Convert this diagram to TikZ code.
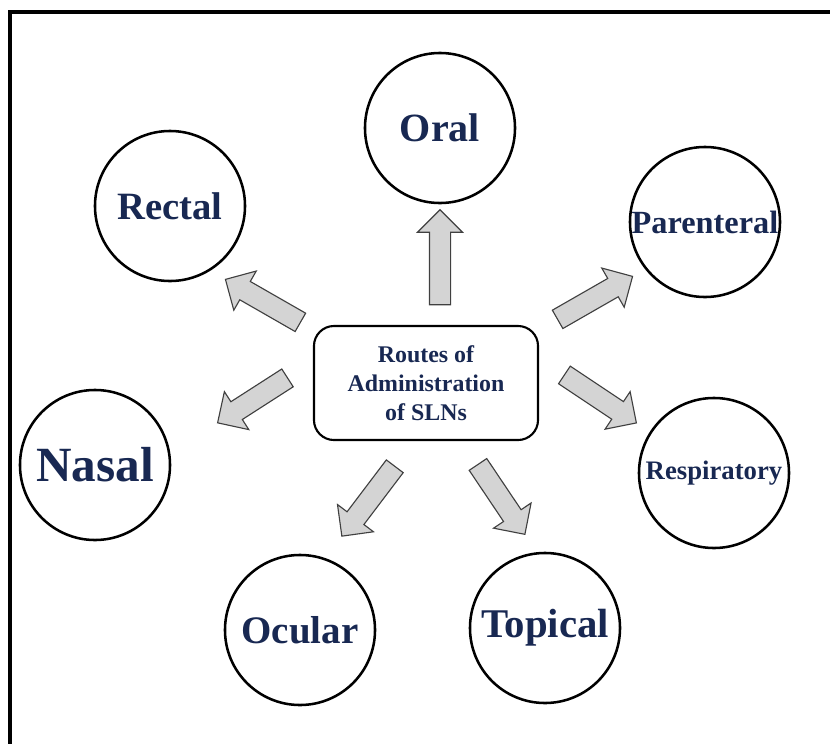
\documentclass[tikz,border=0pt]{standalone}
\usepackage{fontspec}
\setmainfont{Liberation Serif}
\usetikzlibrary{calc,shapes.arrows}
\definecolor{navy}{RGB}{24,40,82}
\definecolor{arrgray}{RGB}{212,212,212}

\begin{document}
\begin{tikzpicture}[x=0.025cm,y=-0.025cm,
  route/.style={circle,draw,line width=1.8pt,minimum size=3.75cm,inner sep=0pt,
    text=navy,font=\bfseries\fontsize{#1}{#1}\selectfont},
  hubbox/.style={draw,rounded corners=0.5cm,line width=1.5pt,minimum width=5.6cm,
    minimum height=2.85cm,align=center,text=navy,font=\bfseries\fontsize{17}{20.5}\selectfont},
  blockarr/.style={single arrow,draw=black!75,fill=arrgray,line width=0.8pt,
    inner xsep=0pt,inner ysep=0.25cm,single arrow head extend=0.3cm,
    single arrow head indent=0pt,sloped,allow upside down}]
\useasboundingbox (0,0) rectangle (830,744);
\draw[line width=2.8pt] (10,744) -- (10,12) -- (830,12);

\node[hubbox] (hub) at (426,383) {Routes of\\Administration\\of SLNs};

\node[route=28.5] (oral) at (440,128) {Oral};
\node[route=27.5] (rectal) at (170,206) {Rectal};
\node[route=23] (parent) at (705,222) {Parenteral};
\node[route=35] (nasal) at (95,465) {Nasal};
\node[route=19] (resp) at (714,473) {Respiratory};
\node[route=27.7] (ocular) at (300,630) {Ocular};
\node[route=29] (topical) at (545,628) {Topical};

% tails and tips of the block arrows
\coordinate (oralT) at (440,310);  \coordinate (oralH) at (440,215);
\coordinate (rectT) at (305,325);  \coordinate (rectH) at (230,282);
\coordinate (parT) at (553,322);   \coordinate (parH) at (628,279);
\coordinate (nasT) at (292,375);   \coordinate (nasH) at (222,420);
\coordinate (resT) at (560,372);   \coordinate (resH) at (632,420);
\coordinate (ocuT) at (398,462);   \coordinate (ocuH) at (345,532);
\coordinate (topT) at (475,460);   \coordinate (topH) at (522,530);

\foreach \a in {oral,rect,par,nas,res,ocu,top}
  \path let \p1=($(\a H)-(\a T)$), \n1={veclen(\x1,\y1)} in
    (\a T) -- (\a H) node[blockarr,midway,minimum height=\n1] (\a Arr) {};
\end{tikzpicture}
\end{document}
